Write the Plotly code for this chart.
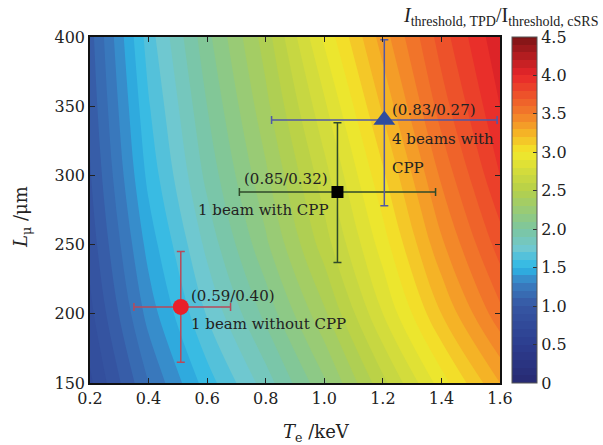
import plotly.graph_objects as go

# ---- field data ----
te_grid = [0.2, 0.4, 0.6, 0.8, 1.0, 1.2, 1.4, 1.6]
l_grid = [150, 200, 250, 300, 350, 400]
ratio = [
    [0.78, 1.20, 1.55, 1.85, 2.18, 2.57, 2.95, 3.30],
    [0.87, 1.34, 1.71, 2.03, 2.38, 2.80, 3.20, 3.57],
    [0.94, 1.44, 1.83, 2.18, 2.55, 2.95, 3.38, 3.75],
    [0.99, 1.53, 1.93, 2.28, 2.66, 3.08, 3.52, 3.90],
    [1.03, 1.59, 2.00, 2.37, 2.78, 3.22, 3.65, 4.00],
    [1.06, 1.65, 2.07, 2.45, 2.92, 3.35, 3.75, 4.08],
]

# ---- experimental points ----
names = ["1 beam without CPP", "1 beam with CPP", "4 beams with", "CPP"]
labels = ["(0.59/0.40)", "(0.85/0.32)", "(0.83/0.27)"]
te_pts = [0.51, 1.045, 1.205]
te_lo = [0.35, 0.71, 0.82]
te_hi = [0.68, 1.38, 1.59]
l_pts = [205, 288, 340]
l_lo = [165, 237, 278]
l_hi = [245, 338, 398]

marker_symbols = ["circle", "square", "triangle-up"]
marker_colors = ["#e8202a", "#000000", "#2e4c9e"]
marker_sizes = [16, 12, 19]
bar_colors = ["#b84a5a", "#2f4a2a", "#5058a6"]

colorscale = [
    [0.0, "#282a72"],
    [0.111, "#2c3d8f"],
    [0.222, "#3656a3"],
    [0.29, "#3a80c2"],
    [0.333, "#2bb8e8"],
    [0.39, "#70c8d0"],
    [0.444, "#7cc6a0"],
    [0.556, "#b5d04a"],
    [0.62, "#d8de3a"],
    [0.667, "#f3e82a"],
    [0.72, "#f5b526"],
    [0.778, "#f27d2a"],
    [0.889, "#e8262a"],
    [1.0, "#7d1416"],
]

FONT = "DejaVu Serif"
TFONT = "Liberation Serif"

fig = go.Figure()
fig.add_trace(go.Contour(
    x=te_grid, y=l_grid, z=ratio,
    colorscale=colorscale, zmin=0, zmax=4.5,
    contours=dict(start=0, end=4.5, size=0.1, coloring="fill"),
    line=dict(width=0),
    colorbar=dict(
        x=1.029, xanchor="left", xpad=0, y=0.5, yanchor="middle", ypad=0,
        len=1.0, lenmode="fraction",
        thickness=25, outlinewidth=1, outlinecolor="#555",
        tickvals=[0, 0.5, 1, 1.5, 2, 2.5, 3, 3.5, 4, 4.5],
        ticktext=["0", "0.5", "1.0", "1.5", "2.0", "2.5", "3.0", "3.5", "4.0", "4.5"],
        ticks="inside", ticklen=4, tickcolor="#333",
        tickfont=dict(family=FONT, size=16, color="#222"),
    ),
    showlegend=False,
))

for i in range(3):
    fig.add_trace(go.Scatter(
        x=[te_pts[i]], y=[l_pts[i]], mode="markers",
        marker=dict(symbol=marker_symbols[i], color=marker_colors[i], size=marker_sizes[i],
                    line=dict(width=0)),
        error_x=dict(type="data", symmetric=False,
                     array=[te_hi[i] - te_pts[i]], arrayminus=[te_pts[i] - te_lo[i]],
                     color=bar_colors[i], thickness=1.5, width=4),
        error_y=dict(type="data", symmetric=False,
                     array=[l_hi[i] - l_pts[i]], arrayminus=[l_pts[i] - l_lo[i]],
                     color=bar_colors[i], thickness=1.5, width=4),
        showlegend=False,
    ))

tf = dict(family=FONT, size=15, color="#222")


def note(i, text, xanchor, xshift, yshift):
    fig.add_annotation(x=te_pts[i], y=l_pts[i], text=text, showarrow=False,
                       xanchor=xanchor, yanchor="middle", xshift=xshift, yshift=yshift, font=tf)


note(0, labels[0], "left", 8, 11)
note(0, names[0], "left", 8, -17)
note(1, labels[1], "right", -7, 13)
note(1, names[1], "right", -7, -18)
note(2, labels[2], "left", 6, 10)
note(2, names[2], "left", 6, -19)
note(2, names[3], "left", 6, -48)

# colorbar title
fig.add_annotation(xref="paper", yref="paper", x=1.245, y=1.0, xanchor="right", yanchor="bottom",
                   yshift=6, showarrow=False,
                   text="<i>I</i><sub>threshold, TPD</sub>/I<sub>threshold, cSRS</sub>",
                   font=dict(family=TFONT, size=20, color="#222"))

# axis titles
fig.add_annotation(xref="paper", yref="paper", x=0.553, y=0, xanchor="center", yanchor="top",
                   yshift=-36, showarrow=False,
                   text="<i>T</i><sub>e</sub> /keV", font=dict(family=FONT, size=18, color="#222"))
fig.add_annotation(xref="paper", yref="paper", x=0, y=0.48, xanchor="right", yanchor="middle",
                   xshift=-54, showarrow=False, textangle=-90,
                   text="<i>L</i><sub>μ</sub> /μm", font=dict(family=FONT, size=18, color="#222"))

axis_common = dict(showgrid=False, zeroline=False, ticks="inside", ticklen=5, tickcolor="#222",
                   showline=True, linecolor="#111", linewidth=1.5, mirror="ticks",
                   tickfont=dict(family=FONT, size=16, color="#222"))

fig.update_xaxes(range=[0.2, 1.6], tickvals=[0.2, 0.4, 0.6, 0.8, 1.0, 1.2, 1.4, 1.6],
                 ticktext=["0.2", "0.4", "0.6", "0.8", "1.0", "1.2", "1.4", "1.6"],
                 **axis_common)
fig.update_yaxes(range=[150, 400], tickvals=[150, 200, 250, 300, 350, 400],
                 **axis_common)

fig.update_layout(
    width=603, height=445,
    margin=dict(l=90, r=103, t=37, b=62),
    paper_bgcolor="white", plot_bgcolor="white",
)

fig.write_html("out.html")
